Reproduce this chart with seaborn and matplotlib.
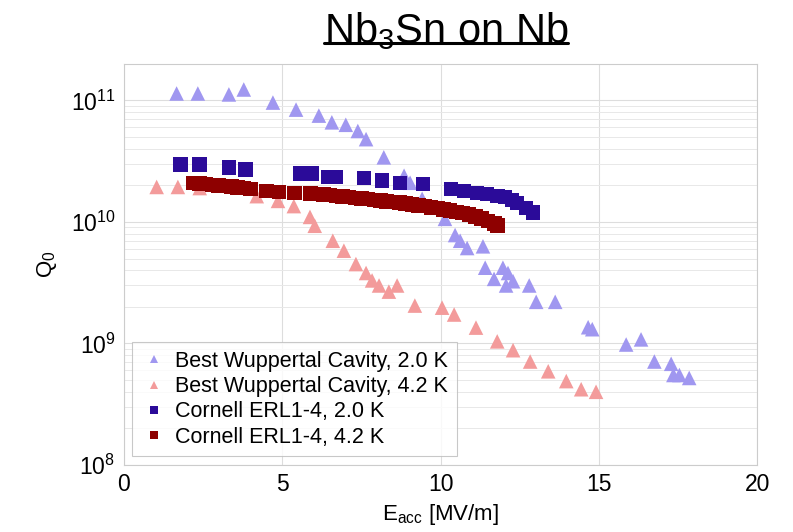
import matplotlib.pyplot as plt
import numpy as np
import pandas as pd
import seaborn as sns
from matplotlib.lines import Line2D

# Best Wuppertal Cavity, 2.0 K
wup20_e = [1.67, 2.34, 3.32, 3.79, 4.71, 5.44, 6.16, 6.57, 7.01, 7.39, 7.65, 8.21, 8.85, 9.04,
           9.42, 10.14, 10.46, 10.62, 10.84, 11.34, 11.41, 11.97, 11.69, 12.13, 12.29, 12.07,
           12.80, 13.02, 13.62, 14.66, 14.79, 15.86, 16.33, 16.75, 17.28, 17.35, 17.54, 17.85]
wup20_q = [1.14e11, 1.14e11, 1.12e11, 1.23e11, 9.6e10, 8.4e10, 7.5e10, 6.6e10, 6.3e10, 5.6e10,
           4.8e10, 3.4e10, 2.4e10, 2.1e10, 1.55e10, 1.06e10, 7.8e9, 7.0e9, 6.1e9, 6.3e9, 4.2e9,
           4.2e9, 3.4e9, 3.8e9, 3.25e9, 3.0e9, 3.0e9, 2.2e9, 2.2e9, 1.36e9, 1.31e9, 9.8e8,
           1.08e9, 7.1e8, 6.8e8, 5.5e8, 5.5e8, 5.2e8]

# Best Wuppertal Cavity, 4.2 K
wup42_e = [1.04, 1.71, 2.40, 4.20, 4.87, 5.37, 5.88, 6.03, 6.60, 6.95, 7.33, 7.65, 7.84, 8.06,
           8.37, 8.63, 9.19, 10.05, 10.43, 11.12, 11.79, 12.29, 12.83, 13.40, 13.97, 14.44, 14.91]
wup42_q = [1.94e10, 1.94e10, 1.9e10, 1.63e10, 1.49e10, 1.35e10, 1.1e10, 9.3e9, 7.0e9, 5.8e9,
           4.5e9, 3.8e9, 3.3e9, 3.0e9, 2.67e9, 3.0e9, 2.05e9, 1.97e9, 1.73e9, 1.35e9, 1.04e9,
           8.8e8, 7.1e8, 5.9e8, 4.9e8, 4.2e8, 4.0e8]

# Cornell ERL1-4, 2.0 K
erl20_e = [1.80, 2.40, 3.32, 3.85, 5.56, 5.94, 6.45, 6.70, 7.58, 8.15, 8.72, 9.45, 10.33, 10.74,
           11.15, 11.47, 11.79, 12.04, 12.26, 12.42, 12.70, 12.92]
erl20_q = [2.98e10, 2.98e10, 2.82e10, 2.7e10, 2.5e10, 2.5e10, 2.34e10, 2.34e10, 2.3e10, 2.2e10,
           2.09e10, 2.05e10, 1.86e10, 1.8e10, 1.73e10, 1.7e10, 1.63e10, 1.6e10, 1.51e10, 1.43e10,
           1.3e10, 1.19e10]

# Cornell ERL1-4, 4.2 K
erl42_e = [2.2, 2.4, 2.6, 2.8, 3.0, 3.2, 3.4, 3.6, 3.8, 4.0, 4.5, 4.9, 5.4,
           5.9, 6.1, 6.3, 6.5, 6.7, 6.9, 7.1, 7.3, 7.5, 7.7, 7.9, 8.1, 8.3, 8.5, 8.7, 8.9,
           9.1, 9.3, 9.5, 9.7, 9.9, 10.1, 10.3, 10.5, 10.7, 10.9, 11.1, 11.3, 11.5, 11.7, 11.8]
erl42_q = [2.09e10, 2.07e10, 2.05e10, 2.02e10, 2.0e10, 1.98e10, 1.95e10, 1.93e10, 1.9e10, 1.87e10,
           1.8e10, 1.76e10, 1.73e10,
           1.72e10, 1.70e10, 1.68e10, 1.66e10, 1.64e10, 1.62e10, 1.60e10, 1.58e10, 1.56e10,
           1.54e10, 1.52e10, 1.50e10, 1.48e10, 1.46e10, 1.44e10, 1.42e10, 1.39e10, 1.37e10,
           1.35e10, 1.32e10, 1.30e10, 1.27e10, 1.24e10, 1.21e10, 1.18e10, 1.15e10, 1.11e10,
           1.07e10, 1.02e10, 0.97e10, 0.93e10]

labels = ['Best Wuppertal Cavity, 2.0 K', 'Best Wuppertal Cavity, 4.2 K',
          'Cornell ERL1-4, 2.0 K', 'Cornell ERL1-4, 4.2 K']
colors = ['#a097f0', '#f39b9b', '#2b0b99', '#8e0000']
markers = ['^', '^', 's', 's']

df = pd.concat([
    pd.DataFrame({'E': wup20_e, 'Q': wup20_q, 'series': labels[0]}),
    pd.DataFrame({'E': wup42_e, 'Q': wup42_q, 'series': labels[1]}),
    pd.DataFrame({'E': erl20_e, 'Q': erl20_q, 'series': labels[2]}),
    pd.DataFrame({'E': erl42_e, 'Q': erl42_q, 'series': labels[3]}),
])

sns.set_style('white')
plt.rcParams['font.family'] = ['Liberation Sans', 'DejaVu Sans']
plt.rcParams['mathtext.fontset'] = 'custom'
plt.rcParams['mathtext.rm'] = 'Liberation Sans'
plt.rcParams['mathtext.it'] = 'Liberation Sans'
plt.rcParams['text.color'] = 'black'
plt.rcParams['axes.labelcolor'] = 'black'
plt.rcParams['xtick.color'] = 'black'
plt.rcParams['ytick.color'] = 'black'

fig = plt.figure(figsize=(7.93, 5.32), dpi=100)
ax = fig.add_axes([0.156, 0.126, 0.799, 0.754])

sns.scatterplot(data=df, x='E', y='Q', hue='series', style='series',
                palette=dict(zip(labels, colors)), markers=dict(zip(labels, markers)),
                hue_order=labels, style_order=labels, s=110, linewidth=0, ax=ax)

ax.set_yscale('log')
ax.set_xlim(0, 20)
ax.set_ylim(1e8, 2e11)
ax.set_xticks([0, 5, 10, 15, 20])
ax.grid(True, which='major', color='#dddddd', lw=0.8)
ax.grid(True, which='minor', axis='y', color='#e8e8e8', lw=0.7)
ax.set_axisbelow(True)
for s in ax.spines.values():
    s.set_color('#cccccc')
ax.tick_params(axis='both', labelsize=16.5, length=3, direction='in', color='#bbbbbb', pad=6)
ax.tick_params(axis='y', which='minor', length=2, direction='in', color='#cccccc')

ax.set_xlabel(r'E$_{\mathrm{acc}}$ [MV/m]', fontsize=16, labelpad=4)
ax.set_ylabel(r'Q$_0$', fontsize=16, labelpad=8)

title = fig.text(0.5625, 0.942, r'Nb$_3$Sn on Nb', fontsize=30, ha='center', va='center')

leg = ax.legend(loc='lower left', fontsize=15.5, markerscale=0.6, frameon=True,
                fancybox=False, edgecolor='#bbbbbb', borderaxespad=0.4,
                handlelength=1.2, handletextpad=0.4, labelspacing=0.2)
leg.get_frame().set_linewidth(0.8)

# underline the title
fig.canvas.draw()
bb = title.get_window_extent().transformed(fig.transFigure.inverted())
fig.add_artist(Line2D([bb.x0, bb.x1], [bb.y0 + 0.016, bb.y0 + 0.016], color='black', lw=2.2))

fig.savefig('out.png', dpi=100)
